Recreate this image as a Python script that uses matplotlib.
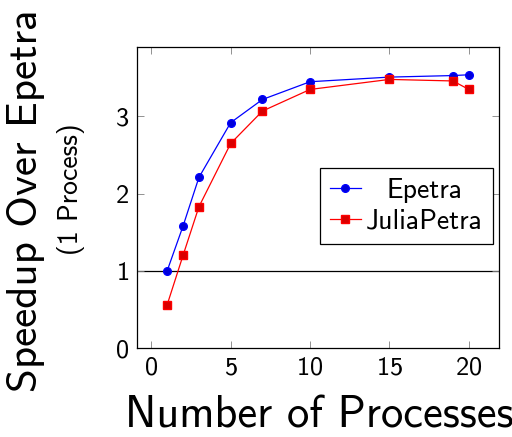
import matplotlib
matplotlib.use("Agg")
import matplotlib.pyplot as plt
from matplotlib.transforms import Affine2D

plt.rcParams['font.family'] = ['cmss10', 'DejaVu Sans']
plt.rcParams['axes.formatter.use_mathtext'] = True

procs = [1, 2, 3, 5, 7, 10, 15, 19, 20]
epetra = [1.0, 1.58, 2.21, 2.92, 3.22, 3.45, 3.51, 3.53, 3.54]
juliapetra = [0.56, 1.20, 1.83, 2.65, 3.07, 3.35, 3.48, 3.46, 3.35]
xticks = [0, 5, 10, 15, 20]
yticks = [0, 1, 2, 3]

fig = plt.figure(figsize=(5.12, 4.37), dpi=100)
ax = fig.add_axes([137/512, 89/437, 362/512, 301/437])

ax.axhline(1, color='black', lw=0.9, zorder=1)
ax.plot(procs, epetra, color='blue', lw=0.9, marker='o', ms=5.5,
        mfc=(0, 0, 0.85), mec='blue', label='Epetra', zorder=3)
ax.plot(procs, juliapetra, color='red', lw=0.9, marker='s', ms=5.5,
        mfc=(0.85, 0, 0), mec='red', label='JuliaPetra', zorder=3)

ax.set_xlim(-0.9, 21.9)
ax.set_ylim(0, 3.9)
ax.set_xticks(xticks)
ax.set_yticks(yticks)
ax.tick_params(direction='in', length=5, width=0.6, color='0.5',
               top=True, right=True, labelsize=19, pad=6)
for s in ax.spines.values():
    s.set_linewidth(0.9)

leg = ax.legend(loc='upper right', bbox_to_anchor=(0.983, 0.598),
                borderaxespad=0, fontsize=20, fancybox=False,
                edgecolor='black', framealpha=1, handlelength=1.1,
                handletextpad=0.2, borderpad=0.35, labelspacing=0.22)
leg.get_frame().set_linewidth(0.9)

# centre the legend labels like pgfplots does
fig.canvas.draw()
r = fig.canvas.get_renderer()
texts = leg.get_texts()
widths = [t.get_window_extent(r).width for t in texts]
wmax = max(widths)
for t, w in zip(texts, widths):
    t.set_transform(t.get_transform() + Affine2D().translate((wmax - w) / 2, 0))

fig.text(26/512, 1 - 201/437, 'Speedup Over Epetra', rotation=90,
         ha='center', va='center', fontsize=31)
fig.text(71/512, 1 - 189/437, '(1 Process)', rotation=90,
         ha='center', va='center', fontsize=20)
fig.text(319/512, 1 - 416/437, 'Number of Processes',
         ha='center', va='center', fontsize=32)

fig.savefig('out.png', dpi=100)
